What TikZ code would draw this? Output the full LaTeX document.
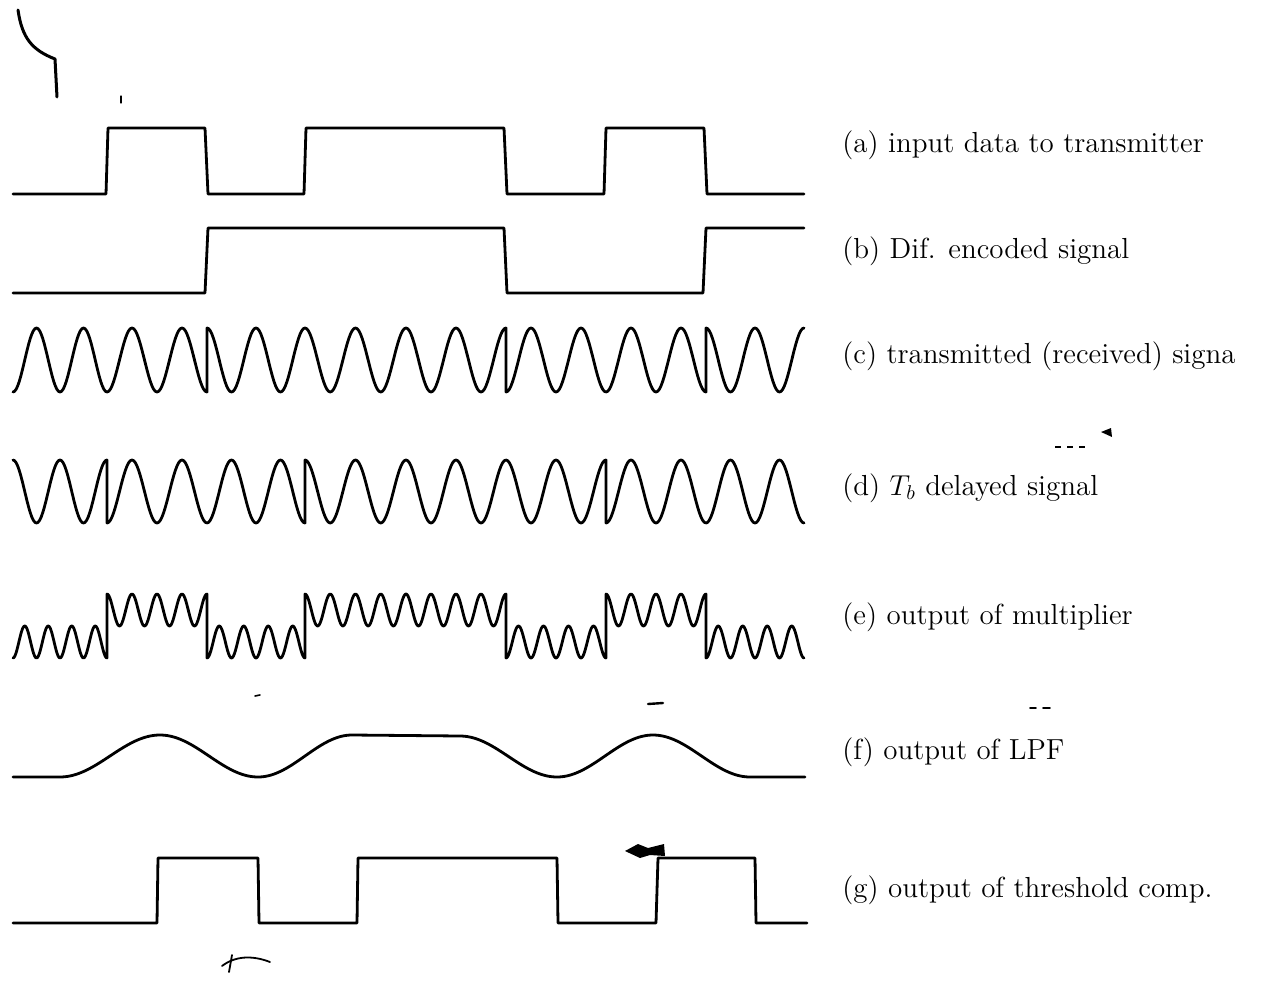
\documentclass[tikz,border=0pt]{standalone}
\begin{document}
\begin{tikzpicture}[x=0.5pt,y=-0.5pt,
  wave/.style={line width=1.4pt, line join=round, line cap=round},
  lab/.style={anchor=base west, inner sep=0pt, font=\fontsize{14.5}{17}\selectfont},
  smudge/.style={line width=1.2pt, line cap=round, line join=round}]
\fill[white] (0,0) rectangle (1267,994);
\useasboundingbox (0,0) rectangle (1267,994);

% (a) input data
\draw[wave] (13,194) -- (106,194) -- (108,128) -- (205,128) -- (208,194) -- (304,194)
  -- (306,128) -- (504,128) -- (507,194) -- (604,194) -- (606,128) -- (704,128)
  -- (707,194) -- (804,194);
% (b) differentially encoded
\draw[wave] (13,293) -- (205,293) -- (208,228) -- (504,228) -- (507,293) -- (703,293)
  -- (706,228) -- (804,228);
% (c) transmitted signal
\draw[wave] (13,392) \foreach \xa/\xb/\sg in
  {13/107/-1,107/207/-1,207/305/1,305/406/1,406/506/1,506/606/-1,606/706/-1,706/804/1}
  { -- plot[domain=\xa:\xb,samples=61] (\x,{360-32*\sg*cos(720/(\xb-\xa)*(\x-\xa))}) };
% (d) Tb delayed signal
\draw[wave] (13,460) \foreach \xa/\xb/\sg in
  {13/107/1,107/207/-1,207/305/-1,305/406/1,406/506/1,506/606/1,606/706/-1,706/804/-1}
  { -- plot[domain=\xa:\xb,samples=61] (\x,{491.5-31.5*\sg*cos(720/(\xb-\xa)*(\x-\xa))}) };
% (e) output of multiplier
\draw[wave] (13,658) \foreach \xa/\xb/\sg in
  {13/107/-1,107/207/1,207/305/-1,305/406/1,406/506/1,506/606/-1,606/706/1,706/804/-1}
  { -- plot[domain=\xa:\xb,samples=101] (\x,{626-16*\sg*(1+cos(1440/(\xb-\xa)*(\x-\xa)))}) };
% (f) output of LPF
\draw[wave] (13,777) -- (60,777)
  -- plot[domain=60:160,samples=41] (\x,{777-21*(1-cos(1.8*(\x-60)))})
  -- plot[domain=160:258,samples=41] (\x,{735+21*(1-cos(180/98*(\x-160)))})
  -- plot[domain=258:352,samples=41] (\x,{777-21*(1-cos(180/94*(\x-258)))})
  -- (460,736)
  -- plot[domain=460:557,samples=41] (\x,{736+20.5*(1-cos(180/97*(\x-460)))})
  -- plot[domain=557:653,samples=41] (\x,{777-21*(1-cos(180/96*(\x-557)))})
  -- plot[domain=653:750,samples=41] (\x,{735+21*(1-cos(180/97*(\x-653)))})
  -- (805,777);
% (g) output of threshold comparator
\draw[wave] (13,923) -- (157,923) -- (158,858) -- (258,858) -- (259,923) -- (357,923)
  -- (358,858) -- (557,858) -- (558,923) -- (656,923) -- (658,858) -- (755,858)
  -- (756,923) -- (807,923);

% labels
\node[lab] (la) at (842,153) {(a) input data to transmitter};
\node[lab] (lb) at (842,259) {(b) Dif. encoded signal};
\node[lab] (lc) at (842,364) {(c) transmitted (received) signa};
\node[lab] (ld) at (842,495) {(d) $T_b$ delayed signal};
\node[lab] (le) at (842,624) {(e) output of multiplier};
\node[lab] (lf) at (842,759) {(f) output of LPF};
\node[lab] (lg) at (842,897) {(g) output of threshold comp.};

% scan marks
\draw[smudge, line width=1.5pt] (18,10) .. controls (22,38) and (32,50) .. (55,59) -- (57,97);
\draw[smudge, line width=0.6pt] (121,96) -- (121,103);
\fill (625,851) -- (638,844) -- (648,848) -- (664,844) -- (665,856) -- (650,855) -- (640,858) -- cycle;
\fill (1101,432) -- (1111,428) -- (1112,437) -- cycle;
\draw[line width=0.6pt, dash pattern=on 3pt off 3pt] (1055,447) -- (1088,447);
\draw[smudge] (648,704) -- (663,703);
\draw[smudge, line width=0.8pt] (1030,708) -- (1036,708) (1043,708) -- (1050,708);
\draw[smudge, line width=0.8pt] (255,696) -- (260,695);
\draw[smudge, line width=0.9pt] (222,966) .. controls (235,956) and (252,955) .. (270,962);
\draw[smudge, line width=0.9pt] (232,955) -- (229,972);
\end{tikzpicture}
\end{document}
